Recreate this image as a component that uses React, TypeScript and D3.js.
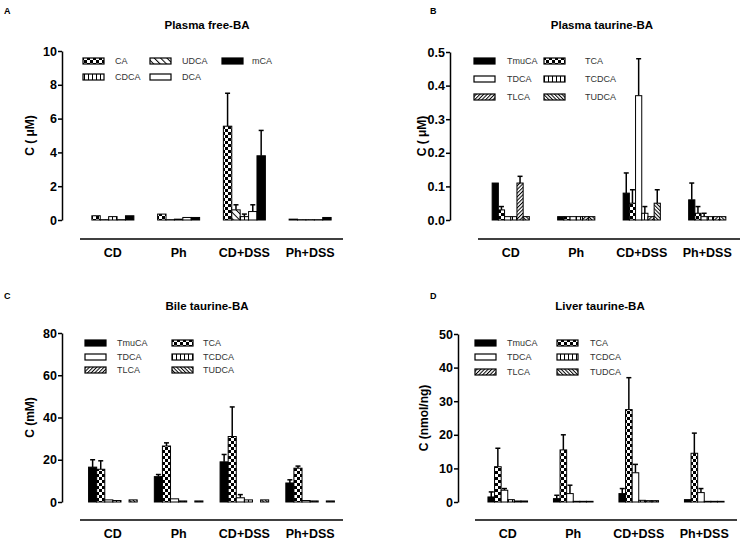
import * as d3 from "d3";
import * as React from "react";

const groups = ["CD", "Ph", "CD+DSS", "Ph+DSS"];

// panel A - plasma free bile acids (bar order as drawn)
const freeSeries = ["CA", "UDCA", "CDCA", "DCA", "mCA"];
const freeLegendOrder = ["CA", "CDCA", "UDCA", "DCA", "mCA"];
const freeMean = [
  [0.25, 0.35, 5.55, 0.05],
  [0.02, 0.02, 0.6, 0.02],
  [0.2, 0.05, 0.2, 0.02],
  [0.02, 0.15, 0.5, 0.02],
  [0.25, 0.15, 3.8, 0.15],
];
const freeErr = [
  [0, 0, 1.95, 0],
  [0, 0, 0.3, 0],
  [0, 0, 0.15, 0],
  [0, 0, 0.4, 0],
  [0, 0, 1.5, 0],
];

// taurine conjugates (panels B, C, D)
const tauSeries = ["TmuCA", "TCA", "TDCA", "TCDCA", "TLCA", "TUDCA"];
const tauLegendOrder = ["TmuCA", "TDCA", "TLCA", "TCA", "TCDCA", "TUDCA"];

const plasmaTauMean = [
  [0.11, 0.01, 0.08, 0.06],
  [0.03, 0.01, 0.05, 0.02],
  [0.01, 0.01, 0.37, 0.01],
  [0.01, 0.01, 0.02, 0.01],
  [0.11, 0.01, 0.01, 0.01],
  [0.01, 0.01, 0.05, 0.01],
];
const plasmaTauErr = [
  [0, 0, 0.06, 0.05],
  [0.01, 0, 0.04, 0.02],
  [0, 0, 0.11, 0.01],
  [0, 0, 0.02, 0],
  [0.02, 0, 0, 0],
  [0, 0, 0.04, 0],
];

const bileTauMean = [
  [16.5, 12, 19, 9],
  [15.5, 26.5, 31, 16],
  [1, 1.5, 2, 0.7],
  [0.7, 0.5, 1, 0.5],
  [0, 0, 0, 0],
  [1, 0.5, 1, 0.5],
];
const bileTauErr = [
  [3.5, 1, 3.5, 1.5],
  [4, 1.5, 14, 1],
  [0, 0, 1.5, 0],
  [0, 0, 0, 0],
  [0, 0, 0, 0],
  [0, 0, 0, 0],
];

const liverTauMean = [
  [1.5, 1, 2.5, 0.7],
  [10.5, 15.5, 27.5, 14.5],
  [3.5, 2.5, 8.7, 2.8],
  [0.7, 0.2, 0.5, 0.2],
  [0.3, 0.2, 0.4, 0.2],
  [0.3, 0.2, 0.4, 0.2],
];
const liverTauErr = [
  [1.5, 1, 1.5, 0],
  [5.5, 4.5, 9.5, 6],
  [0.5, 2.5, 2.5, 1.2],
  [0, 0, 0, 0],
  [0, 0, 0, 0],
  [0, 0, 0, 0],
];

const freeTicks = [0, 2, 4, 6, 8, 10];
const plasmaTauTicks = [0, 0.1, 0.2, 0.3, 0.4, 0.5];
const bileTicks = [0, 20, 40, 60, 80];
const liverTicks = [0, 10, 20, 30, 40, 50];

const fills = {
  CA: "url(#checker)", UDCA: "url(#hatchBackWide)", CDCA: "url(#vstripe)", DCA: "#fff", mCA: "#000",
  TmuCA: "#000", TCA: "url(#checker)", TDCA: "#fff", TCDCA: "url(#vstripe)", TLCA: "url(#hatchFwd)", TUDCA: "url(#hatchBack)",
};

const FONT = "Arial, 'Liberation Sans', sans-serif";

function drawPanel(svg, p) {
  const g = svg.append("g");

  const y = d3.scaleLinear().domain([0, p.ticks[p.ticks.length - 1]]).range([p.y0, p.yTop]);
  const x = d3.scaleBand().domain(groups).range(p.xRange);

  // panel letter + title
  g.append("text").attr("x", p.letterX).attr("y", p.letterY)
    .attr("font-family", FONT).attr("font-weight", "bold").attr("font-size", 9).text(p.letter);
  g.append("text").attr("x", p.titleX).attr("y", p.titleY).attr("text-anchor", "middle")
    .attr("font-family", FONT).attr("font-weight", "bold").attr("font-size", 11.5).text(p.title);

  // y axis
  const yAxis = d3.axisLeft(y).tickValues(p.ticks).tickSize(4).tickSizeOuter(0).tickPadding(1)
    .tickFormat(p.fmt);
  const ya = g.append("g").attr("transform", `translate(${p.axisX},0)`).call(yAxis);
  ya.select(".domain").attr("stroke-width", 1.5);
  ya.selectAll(".tick line").attr("stroke-width", 1.5);
  ya.selectAll(".tick text").attr("font-family", FONT).attr("font-weight", "bold")
    .attr("font-size", 12.5).attr("fill", "#000");

  g.append("text")
    .attr("transform", `translate(${p.yLabelX},${(p.y0 + p.yTop) / 2}) rotate(-90)`)
    .attr("text-anchor", "middle").attr("dy", "0.35em")
    .attr("font-family", FONT).attr("font-weight", "bold").attr("font-size", 12)
    .text(p.yLabel);

  // x line + group labels
  g.append("line").attr("x1", p.xRange[0]).attr("x2", p.xRange[1])
    .attr("y1", p.xLineY).attr("y2", p.xLineY).attr("stroke", "#000").attr("stroke-width", 1.5);
  g.selectAll(".cat").data(groups).join("text")
    .attr("x", (d) => x(d) + x.bandwidth() / 2).attr("y", p.catY)
    .attr("text-anchor", "middle").attr("font-family", FONT).attr("font-weight", "bold")
    .attr("font-size", 12.5).text((d) => d);

  // bars
  const n = p.series.length;
  const inner = d3.scaleBand().domain(p.series).range([0, n * p.barW]);
  const rows = [];
  p.series.forEach((s, si) => {
    groups.forEach((grp, gi) => {
      rows.push({ s, grp, v: p.mean[si][gi], e: p.err[si][gi] });
    });
  });
  const gx = (d) => x(d.grp) + x.bandwidth() / 2 - (n * p.barW) / 2 + inner(d.s);

  const eb = rows.filter((d) => d.e > 0);
  g.selectAll(".err").data(eb).join("line")
    .attr("x1", (d) => gx(d) + p.barW / 2).attr("x2", (d) => gx(d) + p.barW / 2)
    .attr("y1", (d) => y(d.v)).attr("y2", (d) => y(d.v + d.e))
    .attr("stroke", "#000").attr("stroke-width", 1.5);
  g.selectAll(".cap").data(eb).join("line")
    .attr("x1", (d) => gx(d) + p.barW / 2 - 2.5).attr("x2", (d) => gx(d) + p.barW / 2 + 2.5)
    .attr("y1", (d) => y(d.v + d.e)).attr("y2", (d) => y(d.v + d.e))
    .attr("stroke", "#000").attr("stroke-width", 1.5);

  g.selectAll(".bar").data(rows).join("rect")
    .attr("x", (d) => gx(d)).attr("width", inner.bandwidth())
    .attr("y", (d) => y(d.v)).attr("height", (d) => Math.max(0, y(0) - y(d.v)))
    .attr("fill", (d) => fills[d.s]).attr("stroke", "#000").attr("stroke-width", 1);

  // legend
  const lg = g.append("g");
  p.legendOrder.forEach((s, i) => {
    const col = Math.floor(i / p.legendRows.length);
    const row = i % p.legendRows.length;
    const lx = p.legendCols[col];
    const ly = p.legendRows[row];
    lg.append("rect").attr("x", lx).attr("y", ly - 3).attr("width", 21).attr("height", 6)
      .attr("fill", fills[s]).attr("stroke", "#000").attr("stroke-width", 1.2);
    lg.append("text").attr("x", lx + p.legendText[col]).attr("y", ly).attr("dy", "0.35em")
      .attr("font-family", FONT).attr("font-size", 9).attr("fill", "#333").text(s);
  });
}

export default function App() {
  const ref = React.useRef(null);

  React.useEffect(() => {
    const svg = d3.select(ref.current);
    svg.selectAll("*").remove();

    const defs = svg.append("defs");
    const checker = defs.append("pattern").attr("id", "checker").attr("patternUnits", "userSpaceOnUse")
      .attr("width", 6).attr("height", 6);
    checker.append("rect").attr("width", 6).attr("height", 6).attr("fill", "#fff");
    checker.append("rect").attr("width", 3).attr("height", 3).attr("fill", "#000");
    checker.append("rect").attr("x", 3).attr("y", 3).attr("width", 3).attr("height", 3).attr("fill", "#000");

    const vs = defs.append("pattern").attr("id", "vstripe").attr("patternUnits", "userSpaceOnUse")
      .attr("width", 4).attr("height", 4);
    vs.append("rect").attr("width", 4).attr("height", 4).attr("fill", "#fff");
    vs.append("rect").attr("x", 0).attr("width", 1).attr("height", 4).attr("fill", "#000");

    const hatch = (id, w, angle) => {
      const h = defs.append("pattern").attr("id", id).attr("patternUnits", "userSpaceOnUse")
        .attr("width", w).attr("height", w).attr("patternTransform", `rotate(${angle})`);
      h.append("rect").attr("width", w).attr("height", w).attr("fill", "#fff");
      h.append("rect").attr("width", 1).attr("height", w).attr("fill", "#000");
    };
    hatch("hatchFwd", 2.6, 45);
    hatch("hatchBack", 2.6, -45);
    hatch("hatchBackWide", 4.5, -45);

    drawPanel(svg, {
      letter: "A", letterX: 4, letterY: 14, title: "Plasma free-BA", titleX: 207, titleY: 29,
      yLabel: "C ( μM)", yLabelX: 30, axisX: 62, yTop: 51, y0: 220, ticks: freeTicks, fmt: d3.format("d"),
      xRange: [80, 343], xLineY: 239, catY: 257, barW: 8.4,
      series: freeSeries, mean: freeMean, err: freeErr, legendOrder: freeLegendOrder,
      legendCols: [83, 150, 222], legendText: [32, 32, 30], legendRows: [61, 77],
    });
    drawPanel(svg, {
      letter: "B", letterX: 430, letterY: 14, title: "Plasma taurine-BA", titleX: 602, titleY: 29,
      yLabel: "C ( μM)", yLabelX: 422, axisX: 450, yTop: 52, y0: 220, ticks: plasmaTauTicks, fmt: d3.format(".1f"),
      xRange: [478, 740], xLineY: 239, catY: 257, barW: 6.2,
      series: tauSeries, mean: plasmaTauMean, err: plasmaTauErr, legendOrder: tauLegendOrder,
      legendCols: [474, 544], legendText: [33, 41], legendRows: [61, 79, 97],
    });
    drawPanel(svg, {
      letter: "C", letterX: 4, letterY: 299, title: "Bile taurine-BA", titleX: 207, titleY: 310,
      yLabel: "C (mM)", yLabelX: 30, axisX: 62, yTop: 333, y0: 502, ticks: bileTicks, fmt: d3.format("d"),
      xRange: [80, 343], xLineY: 520, catY: 538, barW: 8.1,
      series: tauSeries, mean: bileTauMean, err: bileTauErr, legendOrder: tauLegendOrder,
      legendCols: [85, 172], legendText: [32, 31], legendRows: [343, 357, 370],
    });
    drawPanel(svg, {
      letter: "D", letterX: 430, letterY: 299, title: "Liver taurine-BA", titleX: 600, titleY: 310,
      yLabel: "C (nmol/ng)", yLabelX: 424, axisX: 458, yTop: 334, y0: 502, ticks: liverTicks, fmt: d3.format("d"),
      xRange: [475, 737], xLineY: 520, catY: 538, barW: 6.6,
      series: tauSeries, mean: liverTauMean, err: liverTauErr, legendOrder: tauLegendOrder,
      legendCols: [475, 557], legendText: [32, 33], legendRows: [343, 357, 372],
    });
  }, []);

  return (
    <svg ref={ref} width={745} height={542}
      style={{ position: "absolute", left: 0, top: 0, background: "#fff" }} />
  );
}
